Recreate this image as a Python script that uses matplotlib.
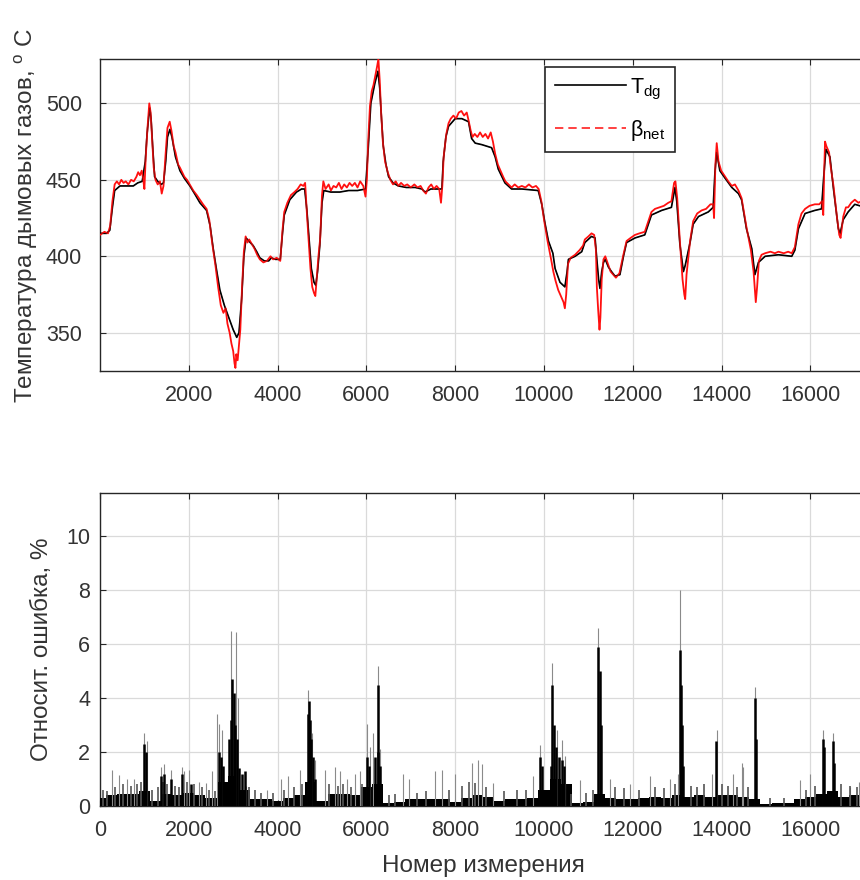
import matplotlib
matplotlib.use("Agg")
import matplotlib.pyplot as plt
from matplotlib.lines import Line2D

plt.rcParams['font.family'] = ['Liberation Sans', 'DejaVu Sans']

# ---------------- data: top panel ----------------
tdg_x = [0,150,220,280,330,450,600,750,850,950,1020,1060,1100,1120,1150,1190,1230,1300,1380,1430,
         1480,1520,1575,1620,1700,1800,1900,2025,2150,2250,2400,2480,2550,2620,2700,2800,2900,3000,
         3080,3130,3190,3240,3290,3350,3450,3530,3600,3700,3800,3860,3950,4060,4110,4150,4275,4425,
         4540,4610,4660,4700,4760,4820,4860,4900,4950,5000,5040,5200,5400,5600,5800,5980,6040,6100,
         6190,6260,6300,6340,6380,6440,6500,6600,6720,6900,7100,7250,7320,7450,7620,7700,7730,7790,
         7850,8000,8150,8300,8370,8450,8600,8820,8900,8970,9120,9270,9500,9870,9950,10020,10100,
         10200,10250,10360,10470,10520,10550,10700,10850,10920,11070,11150,11190,11230,11260,11300,
         11340,11380,11450,11520,11600,11710,11790,11860,12050,12270,12350,12420,12650,12870,12950,
         12990,13060,13140,13180,13290,13360,13480,13700,13810,13850,13890,13960,14080,14230,14380,
         14450,14560,14680,14750,14830,14980,15280,15580,15650,15730,15880,16100,16250,16300,16350,
         16440,16520,16630,16670,16740,16850,17000,17120,17300,17500]
tdg_y = [415,415,417,432,443,446,446,446,448,449,462,480,492,497,490,470,452,449,447,448,
         462,478,483,478,465,456,451,446,440,435,430,420,405,392,378,368,360,352,
         347,350,372,400,412,410,407,403,399,397,397,399,398,398,415,427,437,442,
         444,444,430,415,392,383,381,390,407,435,443,442,442,443,443,444,470,500,
         513,521,510,490,472,460,452,448,446,445,445,444,442,444,444,444,462,478,
         485,490,490,488,477,474,473,471,465,457,448,444,444,443,434,422,410,
         402,392,383,380,390,398,400,403,409,413,412,398,385,379,390,
         396,398,393,390,387,388,400,409,412,414,421,427,430,432,445,
         436,408,390,394,409,421,426,429,432,455,468,456,451,445,441,
         437,418,405,388,396,400,401,400,404,418,428,430,431,452,470,
         465,444,418,415,424,429,434,433,431,430]

net_x = [0,100,180,230,280,330,380,430,480,530,580,640,700,760,820,860,900,940,970,1000,
         1030,1070,1110,1140,1170,1210,1250,1300,1350,1390,1430,1480,1520,1570,1610,1660,1700,
         1760,1800,1850,1900,1960,2020,2100,2180,2250,2320,2400,2460,2530,2600,2660,2720,2780,
         2830,2870,2920,2960,3000,3030,3050,3070,3100,3130,3160,3200,3240,3280,3320,3360,3420,
         3480,3540,3600,3680,3760,3840,3900,3980,4060,4110,4150,4220,4300,4380,4450,4520,4580,
         4620,4660,4700,4740,4780,4820,4850,4880,4920,4960,5000,5030,5080,5150,5200,5260,5320,
         5380,5440,5500,5560,5620,5680,5740,5800,5860,5930,5980,6010,6040,6080,6120,6160,6200,
         6240,6270,6300,6330,6370,6420,6480,6540,6600,6660,6720,6780,6850,6920,7000,7080,7150,
         7220,7280,7340,7400,7460,7520,7580,7640,7680,7710,7740,7800,7850,7900,7960,8020,8080,
         8140,8200,8260,8300,8350,8390,8440,8500,8560,8620,8680,8740,8800,8850,8900,8960,9020,
         9080,9130,9200,9270,9340,9420,9500,9580,9660,9740,9820,9880,9940,10000,10080,10160,
         10210,10260,10320,10380,10440,10470,10500,10540,10600,10700,10800,10880,10920,11000,
         11070,11130,11170,11190,11220,11250,11270,11300,11340,11380,11440,11500,11560,11620,
         11700,11780,11860,11950,12050,12150,12270,12350,12420,12500,12600,12700,12800,12870,
         12930,12960,13000,13060,13120,13160,13180,13210,13290,13360,13450,13550,13650,13750,
         13810,13830,13860,13890,13930,13990,14080,14150,14230,14300,14380,14450,14560,14660,
         14720,14770,14800,14840,14900,14980,15100,15200,15280,15400,15500,15580,15650,15730,
         15800,15880,15980,16100,16200,16260,16290,16310,16330,16360,16420,16460,16520,16600,
         16650,16680,16740,16800,16850,16920,17000,17080,17150,17250,17350,17500]
net_y = [414,416,415,420,436,447,449,447,450,448,449,447,450,449,452,455,453,456,451,444,
         465,484,500,494,478,458,450,447,449,441,446,468,484,488,482,472,468,
         460,458,455,452,450,447,443,440,437,434,431,424,408,394,380,368,363,
         366,356,350,343,338,330,327,336,332,342,352,380,403,413,409,411,408,
         405,401,398,396,397,400,398,399,397,417,429,435,440,442,444,447,446,
         448,428,410,392,380,376,374,385,400,412,440,449,444,447,443,446,445,
         448,444,447,445,448,446,448,445,449,446,439,450,475,498,508,512,518,
         524,529,515,495,475,462,455,450,447,449,446,448,446,447,445,447,445,
         446,443,441,445,447,444,446,444,435,446,465,480,487,490,492,490,494,
         495,492,494,489,482,478,480,478,481,478,480,477,481,475,467,460,456,
         452,449,447,445,447,445,446,445,447,445,446,444,436,424,410,398,
         390,384,378,374,370,366,375,395,399,401,404,407,411,413,
         415,414,404,380,365,352,360,385,398,400,395,390,388,386,
         389,400,410,412,414,415,416,423,429,431,432,433,435,436,
         448,449,438,410,385,375,372,388,410,423,428,430,431,434,
         434,425,460,474,462,456,452,449,446,447,443,438,419,404,
         390,370,380,397,401,402,403,402,403,402,403,402,406,421,
         428,431,433,434,434,436,427,455,475,472,468,458,446,425,
         414,412,426,432,432,435,437,435,436,433,433,431]

# ---------------- data: bottom panel ----------------
band_x = [0,250,500,750,1000,1250,1500,1750,2000,2250,2500,2750,3000,3250,3500,3750,4000,4250,
          4500,4750,5000,5250,5500,5750,6000,6250,6500,6750,7000,7250,7500,7750,8000,8250,8500,
          8750,9000,9250,9500,9750,10000,10250,10500,10750,11000,11250,11500,11750,12000,12250,
          12500,12750,13000,13250,13500,13750,14000,14250,14500,14750,15000,15250,15500,15750,
          16000,16250,16500,16750,17000,17250,17500]
band_h = [0.3,0.4,0.45,0.45,0.55,0.2,0.45,0.4,0.5,0.4,0.3,0.9,1.1,0.6,0.25,0.25,0.2,0.3,
          0.4,0.9,0.2,0.45,0.45,0.4,0.7,0.8,0.12,0.15,0.25,0.25,0.25,0.25,0.15,0.3,0.4,
          0.35,0.2,0.25,0.25,0.3,0.6,1.0,0.8,0.12,0.15,0.45,0.3,0.25,0.25,0.3,
          0.35,0.3,0.4,0.35,0.4,0.35,0.4,0.4,0.35,0.25,0.08,0.1,0.1,0.25,
          0.35,0.45,0.55,0.35,0.4,0.4,0.35]

dark_x = [1000,1030,1380,1450,1600,1850,2050,2680,2720,2760,2900,2940,2980,3010,3040,3080,3120,
          3200,3260,4680,4700,4720,4760,4800,4840,6010,6060,6200,6250,6270,6300,9920,9950,10150,
          10180,10220,10280,10340,10400,10450,11220,11250,11280,13060,13080,13110,13140,13880,
          14750,14770,16280,16310,16500,16540]
dark_h = [2.3,2.0,1.1,1.2,1.0,1.2,0.8,2.0,1.8,1.5,2.5,3.2,4.7,4.2,3.0,2.5,1.4,
          1.2,1.3,3.4,3.9,3.2,2.5,1.8,1.0,1.8,1.5,1.8,2.0,4.5,1.5,1.8,1.5,1.5,
          4.5,3.0,2.2,1.8,1.7,1.5,5.9,5.0,3.0,5.8,4.5,3.0,1.5,2.4,
          4.0,2.5,2.5,2.2,2.4,1.6]

tip_x = [280,430,600,765,1000,1060,1366,1440,1592,1855,1900,2004,2230,2380,2530,2642,2680,2755,
         2942,3055,3100,3280,3770,4070,4241,4504,4691,4766,4842,5067,5292,5400,5555,5742,5850,
         6005,6080,6155,6268,6305,6831,6970,7544,7694,7995,8370,8521,8600,8858,9759,9909,10172,
         10285,10395,10472,10810,11223,11486,11936,12387,12837,13025,13062,13775,13888,14263,
         14450,14489,14752,15765,15990,16290,16515,16891,17100]
tip_h = [1.35,1.15,1.0,1.0,2.7,2.4,1.45,1.55,1.35,1.45,1.3,1.35,0.9,0.85,1.3,3.4,3.05,2.8,
         6.5,6.45,4.0,0.75,0.6,1.0,1.1,1.35,4.3,2.7,1.7,1.35,1.45,1.3,1.0,1.2,1.3,
         3.05,2.2,2.7,5.2,2.1,1.2,1.0,1.3,1.35,1.2,1.6,1.7,1.55,0.85,1.1,2.25,5.3,
         2.8,2.45,1.85,0.95,6.6,1.0,0.8,1.1,1.0,1.2,8.0,1.2,2.8,1.2,
         1.58,1.45,4.4,0.95,1.2,2.8,2.7,0.7,0.9]

# small dark spikes that make the textured base of the error band
mid_x = [60,150,340,520,690,840,920,1180,1300,1420,1520,1680,1780,1950,2120,2300,2450,2600,
         3350,3480,3620,3900,4150,4380,4560,5150,5350,5480,5650,5900,6500,6650,7150,7350,7850,
         8150,8300,8450,8700,9100,9400,9600,10600,10950,11100,11600,11800,12150,12500,12700,12950,
         13300,13450,13600,14000,14150,14350,14600,15100,15400,15900,16100,16700,16900,17050,17250]
mid_h = [0.6,0.55,0.7,0.8,0.75,0.8,0.9,0.6,0.7,0.9,0.8,0.75,0.7,0.9,0.8,0.7,0.6,0.55,
         0.7,0.6,0.5,0.5,0.6,0.7,0.8,0.8,0.75,0.8,0.7,0.8,0.4,0.45,0.5,0.55,0.6,
         0.75,0.9,0.85,0.7,0.55,0.6,0.6,0.45,0.5,0.6,0.7,0.65,0.6,0.7,0.65,0.8,
         0.75,0.7,0.8,0.8,0.75,0.7,0.7,0.3,0.3,0.6,0.75,0.8,0.75,0.7,0.65]

legend_labels = [r'$\mathregular{T_{dg}}$', r'$\mathregular{β_{net}}$']
top_xticks = [2000,4000,6000,8000,10000,12000,14000,16000]
bot_xticks = [0,2000,4000,6000,8000,10000,12000,14000,16000]
top_yticks = [350,400,450,500]
bot_yticks = [0,2,4,6,8,10]

# ---------------- figure ----------------
fig = plt.figure(figsize=(8.6, 8.8), dpi=100)
W, H = 860.0, 880.0
ax1 = fig.add_axes([100/W, 1-371/H, 777/W, 312/H])
ax2 = fig.add_axes([100/W, 1-806/H, 777/W, 313/H])

spine_col = '#262626'
grid_col = '#dadada'
txt_col = '#333333'
lab_fs = 17.5

for ax in (ax1, ax2):
    ax.set_axisbelow(True)
    ax.grid(True, color=grid_col, lw=0.9)
    for s in ax.spines.values():
        s.set_color(spine_col)
        s.set_linewidth(1.0)
    ax.tick_params(direction='in', top=True, right=True, length=4, colors=spine_col,
                   labelsize=15.5, labelcolor=txt_col)
    ax.set_xlim(0, 17500)

ax1.plot(tdg_x, tdg_y, color='black', lw=1.2, zorder=3)
ax1.plot(net_x, net_y, color='#ff1010', lw=1.3, zorder=4)
ax1.plot(tdg_x, tdg_y, color='black', lw=0.6, alpha=0.45, zorder=5)
ax1.set_ylim(325, 529)
ax1.set_xticks(top_xticks)
ax1.set_yticks(top_yticks)
ax1.tick_params(axis='x', pad=10)
ax1.tick_params(axis='y', pad=13)
ax1.set_ylabel('Температура дымовых газов, $^{\\mathregular{o}}$ C', fontsize=lab_fs, color=txt_col)
ax1.yaxis.set_label_coords(-0.077, 0.5)

handles = [Line2D([], [], color='black', lw=1.2),
           Line2D([], [], color='#ff2020', lw=1.2, ls=(0, (5, 3)))]
leg = ax1.legend(handles, legend_labels, loc='upper left', bbox_to_anchor=(0.573, 0.975),
                 fontsize=15.5, frameon=True, fancybox=False, framealpha=1,
                 edgecolor=spine_col, handlelength=3.3, handletextpad=0.2,
                 borderpad=0.45, labelspacing=0.75, borderaxespad=0)
leg.get_frame().set_linewidth(1.2)

ax2.fill_between(band_x, 0, band_h, step='mid', color='black', lw=0, zorder=3)
ax2.vlines(tip_x, 0, tip_h, color='#8a8a8a', lw=0.8, zorder=3)
ax2.vlines(mid_x, 0, mid_h, color='#555555', lw=1.2, zorder=3)
ax2.vlines(dark_x, 0, dark_h, color='black', lw=1.8, zorder=4)
ax2.set_ylim(0, 11.6)
ax2.set_xticks(bot_xticks)
ax2.set_yticks(bot_yticks)
ax2.tick_params(axis='x', pad=10)
ax2.tick_params(axis='y', pad=7)
ax2.set_ylabel('Относит. ошибка, %', fontsize=lab_fs, color=txt_col)
ax2.yaxis.set_label_coords(-0.06, 0.5)
ax2.set_xlabel('Номер измерения', fontsize=lab_fs, color=txt_col)
ax2.xaxis.set_label_coords(0.493, -0.155)

fig.savefig('out.png', dpi=100)
